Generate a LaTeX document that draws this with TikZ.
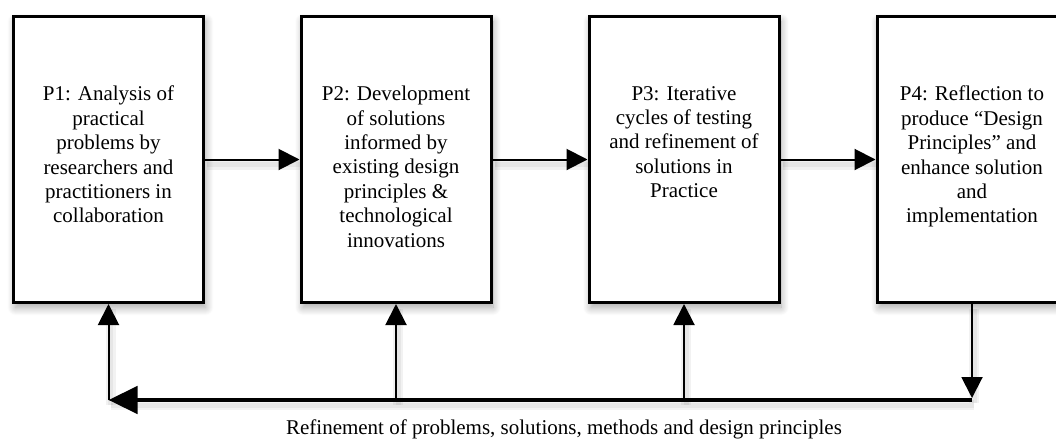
\documentclass[tikz,border=0pt]{standalone}
\usepackage{fontspec}
\setmainfont{Liberation Serif}
\usetikzlibrary{arrows.meta,shadows.blur,calc}
\begin{document}
\begin{tikzpicture}[x=1pt,y=-1pt,
  stepbox/.style={draw=black, line width=3pt, fill=white, minimum width=190pt, minimum height=286pt, inner sep=0pt,
    blur shadow={shadow xshift=2pt, shadow yshift=-5pt, shadow blur radius=8pt, shadow blur steps=10, shadow opacity=35}},
  txt/.style={anchor=north, align=center, inner sep=0pt, font=\fontsize{21}{24.4}\selectfont},
  lshade/.style={preaction={draw=black, draw opacity=0.05, line width=10pt, -, transform canvas={shift={(2pt,-5pt)}}},
                 preaction={draw=black, draw opacity=0.05, line width=5pt, -, transform canvas={shift={(2pt,-5pt)}}}},
  arr/.style={lshade, line width=2pt, -{Triangle[length=21pt,width=21pt]}},
  bigarr/.style={lshade, line width=4.5pt, -{Triangle[length=29pt,width=27pt]}}]
\useasboundingbox (0,0) rectangle (1056,442);
\coordinate (c1) at (108.5,400);
\coordinate (c2) at (396,400);
\coordinate (c3) at (684,400);
\coordinate (c4) at (972,400);
\coordinate (c4t) at (972,398);
\node[stepbox] (p1) at (108.5,159.5) {};
\node[stepbox] (p2) at (396,159.5) {};
\node[stepbox] (p3) at (684,159.5) {};
\node[stepbox] (p4) at (972,159.5) {};
\draw[arr] (p1.east) -- (p2.west);
\draw[arr] (p2.east) -- (p3.west);
\draw[arr] (p3.east) -- (p4.west);
\draw[bigarr] (c4) -- (c1);
\draw[arr] (c1) -- (p1.south);
\draw[arr] (c2) -- (p2.south);
\draw[arr] (c3) -- (p3.south);
\draw[arr] (p4.south) -- (c4t);
\node[txt] (t1) at (108.5,86) {P1: Analysis of\\practical\\problems by\\researchers and\\practitioners in\\collaboration};
\node[txt] (t2) at (396,86) {P2: Development\\of solutions\\informed by\\existing design\\principles \&\\technological\\innovations};
\node[txt] (t3) at (684,86) {P3: Iterative\\cycles of testing\\and refinement of\\solutions in\\Practice};
\node[txt] (t4) at (972,86) {P4: Reflection to\\produce “Design\\Principles” and\\enhance solution\\and\\implementation};
\node[inner sep=0pt, font=\fontsize{21}{24.4}\selectfont] (lbl) at (564,429) {Refinement of problems, solutions, methods and design principles};
\end{tikzpicture}
\end{document}
